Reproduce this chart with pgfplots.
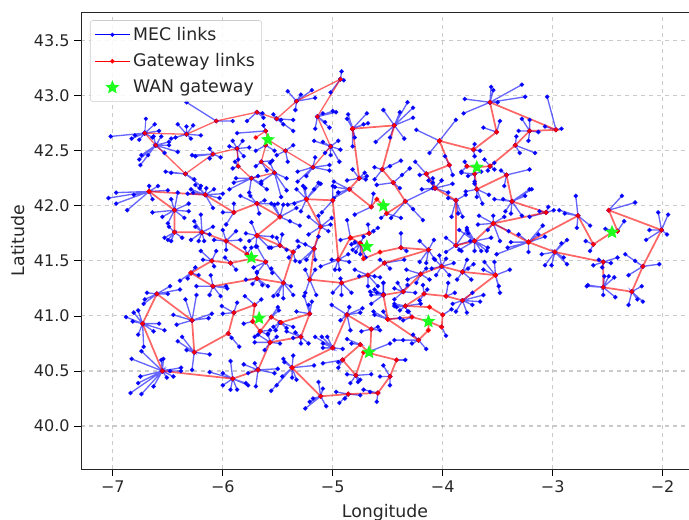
\documentclass[border=0pt]{standalone}
\usepackage{fontspec}
\setmainfont{DejaVu Sans}
\usepackage{pgfplots}
\pgfplotsset{compat=1.18}
\definecolor{txt}{RGB}{38,38,38}
\definecolor{lime}{RGB}{30,255,30}
\pgfdeclareplotmark{fstar}{%
  \pgfpathmoveto{\pgfqpointpolar{90}{\pgfplotmarksize}}%
  \pgfpathlineto{\pgfqpointpolar{126}{.45\pgfplotmarksize}}%
  \pgfpathlineto{\pgfqpointpolar{162}{\pgfplotmarksize}}%
  \pgfpathlineto{\pgfqpointpolar{198}{.45\pgfplotmarksize}}%
  \pgfpathlineto{\pgfqpointpolar{234}{\pgfplotmarksize}}%
  \pgfpathlineto{\pgfqpointpolar{270}{.45\pgfplotmarksize}}%
  \pgfpathlineto{\pgfqpointpolar{306}{\pgfplotmarksize}}%
  \pgfpathlineto{\pgfqpointpolar{342}{.45\pgfplotmarksize}}%
  \pgfpathlineto{\pgfqpointpolar{18}{\pgfplotmarksize}}%
  \pgfpathlineto{\pgfqpointpolar{54}{.45\pgfplotmarksize}}%
  \pgfpathclose\pgfusepathqfill}
\pgfplotsset{
  mec/.style={color=blue,opacity=.6,line width=1pt,mark=*,mark size=1.1pt,mark options={solid,opacity=.9,fill=blue!85!black,draw=none}},
  gw/.style={color=red,opacity=.6,line width=1.3pt,mark=*,mark size=1.1pt,mark options={solid,opacity=.9,fill=red,draw=none}}
}
\newcommand\hub[3]{\gdef\acc{}\foreach\a/\b in {#3}{\xdef\acc{\acc(#1,#2)(\a,\b)}}\edef\tmp{\noexpand\addplot[mec,forget plot] coordinates {\acc};}\tmp}
\begin{document}
\begin{tikzpicture}
\useasboundingbox (-60.75pt,-38.25pt) rectangle (456pt,351.75pt);
\begin{axis}[
  at={(0,0)},anchor=south west,scale only axis,width=456pt,height=342.75pt,
  xmin=-7.29,xmax=-1.76,ymin=39.61,ymax=43.76,
  xtick={-7,-6,-5,-4,-3,-2},xticklabels={−7,−6,−5,−4,−3,−2},
  ytick={40,40.5,41,41.5,42,42.5,43,43.5},
  yticklabel style={/pgf/number format/.cd,fixed,fixed zerofill,precision=1,assume math mode=true},
  tick align=outside,tick pos=left,major tick length=5pt,
  tick style={color=black,line width=.6pt},
  grid=major,major grid style={dashed,color=gray,opacity=.42,line width=.85pt},
  axis line style={line width=.6pt,color=black!85},
  tick label style={font=\fontsize{12}{14}\selectfont,text=txt},
  label style={font=\fontsize{13}{15}\selectfont,text=txt},
  xlabel={Longitude},ylabel={Latitude},
  xlabel style={at={(axis description cs:0.5,0)},anchor=north,yshift=-23pt},
  ylabel style={at={(axis description cs:0,0.5)},anchor=south,yshift=39pt},
  clip=true,
  legend cell align=left,
  legend image code/.code={\draw[mark repeat=2,mark phase=2,#1] plot coordinates {(0cm,0cm)(0.46cm,0cm)(0.92cm,0cm)};},
  legend style={at={(axis description cs:0.0148,0.982)},anchor=north west,
    font=\fontsize{13}{15}\selectfont,text=txt,draw=gray!40,rounded corners=2pt,fill=white,fill opacity=.85,text opacity=1,
    row sep=4.5pt,inner sep=3pt,
    /tikz/every even column/.append style={column sep=5pt}},
  legend image post style={opacity=1},
]
\addplot[mec,line width=.8pt] coordinates {(-6.71,42.66)(-6.70,42.79)};
\addlegendentry{MEC links}
\hub{-6.71}{42.66}{-6.62/42.74,-6.58/42.68,-7.02/42.63,-6.83/42.61,-6.76/42.60,-6.80/42.64,-6.64/42.62}
\hub{-6.61}{42.55}{-6.63/42.63,-6.56/42.63,-6.49/42.58,-6.41/42.49,-6.49/42.55,-6.53/42.48,-6.75/42.37,-6.76/42.42,-6.74/42.46,-6.68/42.46}
\hub{-6.33}{42.65}{-6.41/42.74,-6.33/42.72,-6.27/42.73,-6.20/42.64,-6.43/42.62,-6.29/42.61,-6.47/42.61}
\hub{-6.06}{42.77}{-6.33/42.94,-5.91/42.77}
\hub{-5.69}{42.85}{-5.78/42.77,-5.63/42.80,-5.64/42.84}
\hub{-5.61}{42.68}{-5.87/42.66,-5.63/42.73}
\hub{-5.87}{42.52}{-5.91/42.59,-5.82/42.59,-5.76/42.53,-5.81/42.45,-5.94/42.54,-5.86/42.42}
\hub{-6.09}{42.47}{-6.28/42.46,-6.12/42.52,-6.02/42.44,-6.12/42.43,-6.25/42.45}
\hub{-6.34}{42.29}{-6.52/42.31,-6.47/42.30,-6.20/42.18,-6.26/42.24}
\hub{-5.86}{42.36}{-5.89/42.40,-5.91/42.34}
\hub{-5.74}{42.25}{-5.94/42.15,-5.90/42.21,-5.88/42.25,-5.60/42.15,-5.65/42.20,-5.76/42.12,-5.68/42.27}
\hub{-5.65}{42.40}{-5.70/42.36,-5.55/42.41,-5.60/42.32}
\hub{-5.61}{42.55}{-5.70/42.50,-5.53/42.50}
\hub{-5.51}{42.79}{-5.54/42.83,-5.36/42.78,-5.36/42.68,-5.45/42.74,-5.47/42.78}
\hub{-5.33}{42.95}{-5.41/43.04,-5.29/43.01,-5.19/43.05,-5.16/42.98,-5.34/42.87}
\hub{-4.93}{43.15}{-4.92/43.22,-4.90/43.14,-5.02/43.03}
\hub{-5.14}{42.81}{-5.00/42.86,-4.97/42.85,-5.16/42.70,-5.03/42.71,-5.09/42.84,-5.07/42.76}
\hub{-5.02}{42.54}{-5.17/42.59,-5.09/42.58,-4.95/42.59,-4.93/42.51,-4.94/42.40,-5.02/42.46,-5.07/42.48}
\hub{-5.18}{42.35}{-5.16/42.44,-5.32/42.31,-5.03/42.37,-5.03/42.32,-5.32/42.22,-5.24/42.27}
\hub{-5.43}{42.50}{-5.36/42.55,-5.51/42.46,-5.41/42.40}
\hub{-5.53}{42.30}{-5.42/42.25,-5.42/42.14,-5.47/42.08,-5.57/42.39,-5.65/42.22}
\hub{-4.82}{42.70}{-4.86/42.83,-4.87/42.79,-4.69/42.84,-4.68/42.75,-4.72/42.74,-4.82/42.54,-4.80/42.62}
\hub{-4.44}{42.73}{-4.32/42.94,-4.54/42.87,-4.27/42.89,-4.27/42.80,-4.35/42.61,-4.48/42.62,-4.61/42.58,-4.39/42.85}
\hub{-4.03}{42.59}{-4.24/42.69,-3.88/42.78,-4.12/42.48}
\hub{-4.76}{42.25}{-4.82/42.33,-4.69/42.27,-4.70/42.24,-4.87/42.23,-4.71/42.30}
\hub{-4.85}{42.15}{-4.99/42.22,-4.98/42.17,-4.99/42.07,-4.95/42.12}
\hub{-4.55}{42.33}{-4.38/42.41,-4.62/42.35,-4.62/42.24,-4.48/42.36}
\hub{-4.45}{42.21}{-4.30/42.34,-4.60/42.19,-4.37/42.28,-4.39/42.16}
\hub{-4.15}{42.29}{-4.25/42.40,-4.09/42.21,-4.21/42.28}
\hub{-3.94}{42.37}{-3.98/42.45,-3.91/42.28}
\hub{-4.07}{42.16}{-3.91/42.20,-4.19/42.15,-4.01/42.23,-4.13/42.23,-3.95/42.12,-4.09/42.25}
\hub{-3.57}{42.94}{-3.56/43.08,-3.54/43.05,-3.28/43.10,-3.25/42.99,-3.80/42.97,-3.81/42.84,-3.50/42.94}
\hub{-2.97}{42.69}{-3.05/42.99,-2.92/42.70,-3.07/42.72}
\hub{-3.21}{42.68}{-3.28/42.79,-3.21/42.78,-3.31/42.68,-3.13/42.67,-3.22/42.59}
\hub{-3.51}{42.67}{-3.48/42.77,-3.63/42.71}
\hub{-3.34}{42.55}{-3.33/42.63,-3.16/42.48,-3.30/42.48}
\hub{-3.72}{42.51}{-3.71/42.56,-3.66/42.50,-3.71/42.45}
\hub{-3.57}{42.36}{-3.53/42.39,-3.62/42.42,-3.53/42.33,-3.59/42.32}
\hub{-3.78}{42.36}{-3.83/42.31,-3.80/42.40}
\hub{-3.71}{42.29}{-3.77/42.27,-3.71/42.22,-3.83/42.30,-3.65/42.31}
\hub{-3.42}{42.28}{-3.21/42.33,-3.47/42.32,-3.44/42.18}
\hub{-3.69}{42.15}{-3.79/42.13,-3.71/42.20,-3.58/42.10,-3.64/42.02,-3.69/42.08}
\hub{-3.37}{42.04}{-3.19/42.15,-3.21/42.15,-3.53/42.06,-3.45/42.06,-3.43/41.95,-3.38/41.93,-3.28/41.91,-3.25/42.09}
\hub{-3.06}{41.94}{-3.04/41.99,-2.99/41.96,-3.12/41.95,-3.21/41.90}
\hub{-2.77}{41.91}{-2.79/42.09,-2.94/41.96,-2.89/41.93,-2.66/41.82,-2.78/41.80}
\hub{-2.63}{41.65}{-2.70/41.68,-2.66/41.59}
\hub{-2.41}{41.77}{-2.35/41.86,-2.52/41.79}
\hub{-2.49}{41.96}{-2.37/42.09,-2.25/42.03}
\hub{-2.01}{41.78}{-2.04/41.94,-1.95/41.92,-1.96/41.74,-2.12/41.78,-2.15/41.69}
\hub{-2.18}{41.45}{-2.34/41.56,-2.03/41.47,-2.31/41.37,-2.25/41.50}
\hub{-2.28}{41.22}{-2.31/41.10,-2.19/41.27,-2.18/41.13,-2.23/41.15}
\hub{-2.54}{41.26}{-2.68/41.28,-2.69/41.27,-2.49/41.36,-2.44/41.35,-2.54/41.19,-2.43/41.17,-2.53/41.36}
\hub{-2.54}{41.49}{-2.41/41.53,-2.63/41.46,-2.47/41.48,-2.58/41.51,-2.55/41.44}
\hub{-2.98}{41.58}{-2.87/41.69,-2.92/41.66,-3.07/41.46,-3.01/41.46,-2.87/41.47,-2.90/41.53,-3.10/41.56}
\hub{-3.22}{41.67}{-3.09/41.82,-3.07/41.72,-3.31/41.74,-3.51/41.56,-3.41/41.62,-3.38/41.67,-3.22/41.58,-3.13/41.74}
\hub{-3.54}{41.84}{-3.67/41.91,-3.54/41.91,-3.44/41.90,-3.40/41.77,-3.48/41.68,-3.59/41.78,-3.68/41.83}
\hub{-3.71}{41.68}{-3.78/41.80,-3.85/41.78,-3.56/41.71,-3.59/41.62,-3.65/41.59,-3.71/41.59,-3.60/41.59,-3.85/41.60,-3.77/41.75}
\hub{-3.52}{41.37}{-3.53/41.49,-3.39/41.42,-3.48/41.21,-3.62/41.49,-3.63/41.42,-3.49/41.27}
\hub{-3.82}{41.40}{-3.78/41.51,-3.74/41.33,-3.72/41.47,-3.87/41.33,-3.77/41.43}
\hub{-3.82}{41.14}{-3.63/41.19,-3.73/41.21,-3.73/41.10,-3.91/41.11,-3.88/41.04,-3.66/41.13,-3.78/41.03}
\hub{-5.24}{42.06}{-5.33/42.15,-5.27/42.18,-5.13/42.21,-5.11/42.20,-5.35/42.02,-5.41/42.01,-5.29/41.95,-5.25/42.16,-5.17/42.15}
\hub{-5.00}{42.05}{-5.10/41.94,-5.00/42.18,-4.95/42.12}
\hub{-5.48}{41.90}{-5.45/42.01,-5.56/42.02,-5.30/41.82,-5.33/41.98,-5.53/42.01,-5.39/41.86}
\hub{-5.11}{41.81}{-5.22/41.90,-5.01/41.89,-5.22/41.74,-5.04/41.77,-5.13/41.91,-5.02/41.83}
\hub{-5.48}{41.64}{-5.46/41.74,-5.56/41.62,-5.51/41.71,-5.42/41.60}
\hub{-5.36}{41.58}{-5.31/41.63,-5.34/41.50,-5.40/41.53}
\hub{-5.17}{41.61}{-5.32/41.68,-5.30/41.49,-5.25/41.65,-5.13/41.72,-5.16/41.51,-5.24/41.51}
\hub{-4.95}{41.51}{-5.01/41.51,-5.11/41.45,-4.86/41.56,-4.85/41.49,-4.94/41.42,-4.98/41.42}
\hub{-4.84}{41.71}{-4.87/41.87,-4.93/41.69}
\hub{-4.67}{41.75}{-4.68/41.83,-4.59/41.80,-4.63/41.77}
\hub{-4.75}{41.66}{-4.80/41.67,-4.82/41.60,-4.75/41.56,-4.70/41.53,-4.83/41.65,-4.72/41.72,-4.79/41.58}
\hub{-4.38}{41.62}{-4.38/41.75,-4.33/41.59}
\hub{-4.13}{41.60}{-4.08/41.69,-4.21/41.68,-4.21/41.49,-4.15/41.48,-4.07/41.51}
\hub{-4.68}{41.37}{-4.80/41.42,-4.57/41.35,-4.59/41.27,-4.68/41.27,-4.62/41.36,-4.76/41.36}
\hub{-4.53}{41.48}{-4.57/41.51,-4.35/41.51,-4.48/41.43}
\hub{-4.01}{41.45}{-4.03/41.55,-3.90/41.48,-4.08/41.52,-3.94/41.37,-4.10/41.43,-4.06/41.37,-3.97/41.52}
\hub{-4.20}{41.38}{-4.33/41.42,-4.32/41.33,-4.12/41.33,-4.15/41.43,-4.24/41.30}
\hub{-4.36}{41.22}{-4.44/41.25,-4.41/41.30,-4.25/41.21,-4.32/41.28,-4.44/41.15}
\hub{-4.54}{41.19}{-4.62/41.24,-4.54/41.30,-4.65/41.19,-4.65/41.11,-4.60/41.21}
\hub{-5.21}{41.33}{-5.25/41.42,-5.16/41.42,-5.25/41.21,-5.15/41.19}
\hub{-4.92}{41.30}{-4.93/41.34,-4.83/41.21,-5.00/41.21,-4.92/41.19}
\hub{-5.45}{41.30}{-5.56/41.43,-5.38/41.27,-5.45/41.16,-5.54/41.18,-5.36/41.19,-5.50/41.19}
\hub{-3.88}{42.05}{-3.79/42.10,-3.82/41.90,-3.92/41.90,-3.86/41.93,-3.95/42.07}
\hub{-3.88}{41.64}{-3.97/41.71,-3.78/41.78,-3.75/41.68,-3.83/41.59,-3.97/41.58}
\hub{-4.34}{42.04}{-4.09/42.16,-4.18/41.87,-4.47/41.89,-4.27/41.97}
\hub{-4.51}{41.93}{-4.56/41.89,-4.38/41.89}
\hub{-4.65}{41.99}{-4.80/41.92,-4.63/42.11}
\hub{-6.67}{42.13}{-6.67/42.18,-6.59/42.18,-6.50/42.14,-6.64/42.06,-7.04/42.07,-6.97/42.12,-6.97/42.02,-6.87/41.96,-6.81/42.10}
\hub{-6.44}{41.96}{-6.41/42.12,-6.47/42.06,-6.31/42.02,-6.64/41.94,-6.31/41.95,-6.35/41.89,-6.55/41.90,-6.50/41.84}
\hub{-6.44}{41.76}{-6.49/41.81,-6.53/41.71,-6.50/41.69,-6.37/41.71,-6.47/41.68}
\hub{-6.19}{41.76}{-6.26/41.86,-6.20/41.92,-6.09/41.81,-6.29/41.69,-6.22/41.68,-6.17/41.68,-6.25/41.81,-6.12/41.74}
\hub{-6.16}{42.10}{-6.25/42.19,-6.29/42.15,-6.27/42.12,-6.21/42.16,-6.00/42.11,-6.09/41.98,-6.08/42.15,-6.32/42.11,-6.15/42.16,-6.03/42.07}
\hub{-5.90}{41.94}{-5.90/42.02,-6.00/41.94,-5.97/41.83}
\hub{-5.69}{42.02}{-5.84/42.09,-5.50/42.02,-5.67/41.93,-5.62/42.05,-5.75/42.09}
\hub{-5.69}{41.73}{-5.74/41.85,-5.79/41.75,-5.55/41.72,-5.58/41.62,-5.76/41.68,-5.70/41.63}
\hub{-5.97}{41.68}{-6.00/41.78,-6.08/41.69,-5.84/41.69,-5.97/41.60,-5.88/41.77}
\hub{-5.61}{41.49}{-5.69/41.63,-5.55/41.39,-5.69/41.39,-5.72/41.44}
\hub{-5.78}{41.56}{-5.80/41.62,-5.74/41.62}
\hub{-6.10}{41.50}{-6.20/41.59,-6.06/41.59,-6.08/41.45,-6.18/41.51}
\hub{-5.93}{41.48}{-5.98/41.53,-5.88/41.42}
\hub{-6.29}{41.39}{-6.25/41.44,-6.39/41.32,-6.32/41.34,-6.22/41.37}
\hub{-6.09}{41.27}{-6.11/41.37,-6.24/41.27,-6.02/41.18,-5.97/41.27,-6.12/41.19,-5.96/41.25}
\hub{-5.69}{41.34}{-5.69/41.40,-5.79/41.33,-5.59/41.27,-5.73/41.29,-5.64/41.28}
\hub{-6.60}{41.20}{-6.48/41.27,-6.39/41.24,-6.69/41.21,-6.72/41.11,-6.71/41.15,-6.50/41.20}
\hub{-6.73}{40.93}{-6.88/40.99,-6.81/41.03,-6.77/41.05,-6.58/40.93,-6.53/40.87,-6.72/40.72,-6.77/40.83,-6.82/40.95,-6.63/40.86}
\hub{-6.28}{40.96}{-6.24/41.19,-6.34/41.15,-6.45/41.01,-6.42/40.92,-6.10/41.02,-6.13/40.98}
\hub{-6.26}{40.67}{-6.41/40.77,-6.37/40.81,-6.33/40.69,-6.12/40.65,-6.28/40.51}
\hub{-6.55}{40.50}{-6.74/40.68,-6.83/40.61,-6.75/40.45,-6.77/40.39,-6.84/40.30,-6.74/40.29,-6.63/40.36,-6.51/40.44,-6.45/40.45,-6.38/40.53,-6.38/40.50,-6.56/40.60,-6.54/40.61,-6.48/40.50}
\hub{-5.91}{40.43}{-5.93/40.59,-6.12/40.49,-6.00/40.37,-5.93/40.33,-5.87/40.33,-5.77/40.37,-5.79/40.39,-6.00/40.48}
\hub{-5.68}{40.51}{-5.81/40.56,-5.71/40.57,-5.50/40.52,-5.53/40.48,-5.70/40.36,-5.77/40.48}
\hub{-5.57}{40.76}{-5.71/40.76,-5.68/40.83,-5.59/40.84,-5.48/40.75,-5.62/40.69,-5.51/40.81}
\hub{-5.37}{40.53}{-5.45/40.61,-5.33/40.42,-5.56/40.32,-5.51/40.37,-5.46/40.45,-5.36/40.64,-5.17/40.55,-5.37/40.44,-5.44/40.58}
\hub{-5.90}{41.03}{-5.87/41.12,-6.01/41.09,-6.00/41.02}
\hub{-5.95}{40.84}{-5.85/40.72,-5.92/40.80}
\hub{-5.71}{41.10}{-5.80/41.18,-5.65/41.15}
\hub{-5.73}{40.95}{-5.81/40.93}
\hub{-5.66}{40.86}{-5.57/40.87,-5.71/40.81,-5.59/40.83}
\hub{-5.56}{40.99}{-5.50/41.08,-5.49/41.05}
\hub{-5.48}{40.94}{-5.36/40.90,-5.54/40.90,-5.42/40.89,-5.52/40.87}
\hub{-4.54}{41.20}{-4.66/41.22,-4.54/41.30}
\hub{-4.17}{41.20}{-4.18/41.28,-4.14/41.24,-4.21/41.14}
\hub{-3.97}{41.18}{-3.95/41.30,-3.89/41.21}
\hub{-4.34}{41.09}{-4.44/41.11,-4.39/41.05,-4.32/41.04,-4.20/41.11,-4.44/41.09,-4.42/41.08}
\hub{-4.00}{41.01}{-3.92/41.06}
\hub{-4.50}{40.97}{-4.63/41.04,-4.62/41.01,-4.39/40.98,-4.54/41.04}
\hub{-4.87}{41.01}{-5.01/41.10,-4.85/41.08,-4.73/41.07,-4.75/41.03,-4.84/40.87,-4.93/40.96}
\hub{-4.65}{40.88}{-4.74/40.86,-4.57/40.87,-4.59/40.90}
\hub{-4.22}{40.78}{-4.44/40.78,-4.27/40.83,-4.15/40.70,-4.36/40.78,-4.28/40.75}
\hub{-4.28}{40.99}{-4.31/41.04,-4.36/40.96}
\hub{-4.01}{40.90}{-3.97/40.82}
\hub{-5.00}{40.71}{-5.16/40.81,-5.10/40.81,-5.05/40.81,-5.09/40.71,-4.91/40.70,-5.09/40.75}
\hub{-4.75}{40.74}{-4.87/40.79,-4.83/40.75}
\hub{-4.91}{40.60}{-5.09/40.57,-4.95/40.53,-4.95/40.58}
\hub{-4.66}{40.68}{-4.48/40.75}
\hub{-4.79}{40.46}{-4.87/40.47,-4.65/40.47,-4.84/40.39,-4.77/40.40,-4.75/40.42}
\hub{-4.42}{40.60}{-4.34/40.60}
\hub{-4.48}{40.45}{-4.54/40.55,-4.57/40.45,-4.48/40.37}
\hub{-4.59}{40.30}{-4.72/40.33,-4.60/40.22,-4.66/40.31}
\hub{-4.86}{40.29}{-4.97/40.31,-4.94/40.21,-4.75/40.28,-4.89/40.25}
\hub{-5.11}{40.27}{-5.13/40.40,-5.25/40.16,-5.06/40.18,-5.18/40.25,-5.21/40.22,-5.09/40.34}
\hub{-5.21}{41.02}{-5.26/41.18,-5.19/41.13,-5.33/41.04,-5.22/41.10}
\hub{-5.29}{40.81}{-5.42/40.86,-5.34/40.85,-5.22/40.75,-5.29/40.75,-5.36/40.80}
%
\addplot[gw,line width=1pt] coordinates {(-5.59,42.60)(-5.43,42.50)(-5.18,42.35)(-5.02,42.54)(-5.14,42.81)(-4.93,43.15)(-5.33,42.95)(-5.51,42.79)(-5.69,42.85)(-6.06,42.77)(-6.33,42.65)(-6.71,42.66)(-6.61,42.55)(-6.34,42.29)(-6.09,42.47)(-5.87,42.52)(-5.86,42.36)(-5.74,42.25)(-5.53,42.30)(-5.65,42.40)(-5.61,42.55)(-5.59,42.60)(-5.61,42.68)(-5.70,42.62)};
\addlegendentry{Gateway links}
\addplot[gw,forget plot] coordinates {(-6.67,42.13)(-6.16,42.10)(-5.90,41.94)(-5.69,42.02)(-5.48,41.90)(-5.69,41.73)};
\addplot[gw,forget plot] coordinates {(-6.67,42.13)(-6.44,41.96)(-6.44,41.76)(-6.19,41.76)(-5.97,41.68)(-5.78,41.56)(-5.74,41.52)(-5.61,41.49)};
\addplot[gw,forget plot] coordinates {(-6.29,41.39)(-6.10,41.50)(-5.93,41.48)(-5.74,41.52)};
\addplot[gw,forget plot] coordinates {(-6.29,41.39)(-6.09,41.27)(-5.69,41.34)(-5.45,41.30)(-5.36,41.58)(-5.48,41.64)(-5.69,41.73)};
\addplot[gw,forget plot] coordinates {(-5.24,42.06)(-5.00,42.05)(-4.95,41.51)(-4.84,41.71)(-4.67,41.75)};
\addplot[gw,forget plot] coordinates {(-4.84,41.71)(-4.75,41.66)(-4.69,41.63)};
\addplot[gw,forget plot] coordinates {(-4.75,41.66)(-4.72,41.52)(-4.57,41.58)(-4.38,41.62)(-4.13,41.60)(-4.53,41.48)(-4.68,41.37)(-4.92,41.30)(-5.21,41.33)(-5.17,41.61)(-5.11,41.81)(-5.24,42.06)};
\addplot[gw,forget plot] coordinates {(-4.82,42.70)(-4.44,42.73)(-4.55,42.33)(-4.45,42.21)(-4.34,42.04)(-4.51,41.93)(-4.54,42.00)(-4.60,42.06)(-4.65,41.99)(-4.85,42.15)(-4.76,42.25)(-4.82,42.70)};
\addplot[gw,forget plot] coordinates {(-4.03,42.59)(-3.94,42.37)(-4.15,42.29)(-4.07,42.16)(-3.88,42.05)(-3.88,41.64)(-3.71,41.68)(-3.54,41.84)(-3.06,41.94)(-3.37,42.04)(-3.42,42.28)(-3.69,42.15)(-3.71,42.29)(-3.69,42.35)(-3.78,42.36)};
\addplot[gw,forget plot] coordinates {(-3.69,42.35)(-3.57,42.36)(-3.34,42.55)(-3.21,42.68)(-2.97,42.69)(-3.57,42.94)(-3.51,42.67)(-3.72,42.51)(-4.03,42.59)};
\addplot[gw,forget plot] coordinates {(-3.22,41.67)(-2.77,41.91)(-2.63,41.65)(-2.46,41.76)(-2.41,41.77)(-2.49,41.96)(-2.01,41.78)(-2.18,41.45)(-2.28,41.22)(-2.54,41.26)(-2.54,41.49)(-2.98,41.58)(-3.22,41.67)};
\addplot[gw,forget plot] coordinates {(-3.22,41.67)(-3.54,41.84)};
\addplot[gw,forget plot] coordinates {(-3.52,41.37)(-3.82,41.40)(-4.01,41.45)(-4.20,41.38)(-4.36,41.22)(-4.54,41.19)(-4.50,40.97)(-4.22,40.78)(-4.13,40.87)(-4.13,40.95)(-4.28,40.99)(-4.50,40.97)};
\addplot[gw,forget plot] coordinates {(-3.52,41.37)(-3.82,41.14)(-3.97,41.18)(-4.17,41.20)(-4.34,41.09)(-4.12,41.08)(-4.00,41.01)(-4.01,40.90)(-4.13,40.95)};
\addplot[gw,forget plot] coordinates {(-5.37,40.53)(-5.11,40.27)(-4.86,40.29)(-4.59,40.30)(-4.48,40.45)(-4.42,40.60)(-4.66,40.66)};
\addplot[gw,forget plot] coordinates {(-5.37,40.53)(-5.00,40.71)(-4.87,41.01)(-4.65,40.88)(-4.66,40.66)(-4.75,40.74)(-4.91,40.60)(-4.79,40.46)(-4.72,40.67)(-4.66,40.66)};
\addplot[gw,forget plot] coordinates {(-5.57,40.76)(-5.29,40.81)(-5.21,41.02)(-5.47,40.94)(-5.56,40.99)(-5.66,40.86)(-5.73,40.95)(-5.71,41.10)(-5.90,41.03)(-5.95,40.84)(-6.26,40.67)(-6.28,40.96)(-6.60,41.20)(-6.73,40.93)(-6.55,40.50)(-5.91,40.43)(-5.68,40.51)(-5.57,40.76)};
%
\addplot[only marks,mark=fstar,mark size=5.5pt,color=lime,mark options={fill=lime,draw=none}] coordinates {(-5.59,42.60)(-3.69,42.35)(-4.54,42.00)(-2.46,41.76)(-5.74,41.53)(-4.69,41.63)(-5.67,40.98)(-4.13,40.95)(-4.67,40.67)};
\addlegendentry{WAN gateway}
\end{axis}
\end{tikzpicture}
\end{document}
